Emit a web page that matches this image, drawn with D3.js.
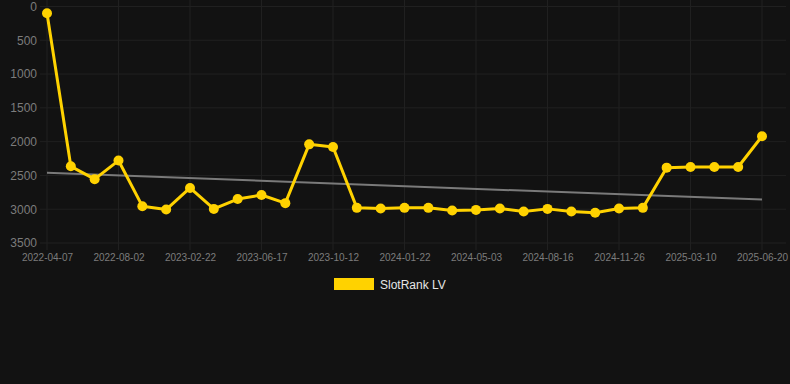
<!DOCTYPE html>
<html><head><meta charset="utf-8">
<script src="https://cdn.jsdelivr.net/npm/d3@7"></script>
<style>html,body{margin:0;padding:0;background:#121212;}svg{display:block;}</style>
</head><body>
<svg id="c" width="790" height="384"></svg>
<script>
const dates = ["2022-04-07","2022-05-15","2022-06-25","2022-08-02","2022-10-01","2022-12-10","2023-02-22","2023-03-30","2023-05-10","2023-06-17","2023-07-30","2023-09-01","2023-10-12","2023-11-20","2023-12-20","2024-01-22","2024-02-28","2024-04-01","2024-05-03","2024-06-10","2024-07-15","2024-08-16","2024-09-20","2024-10-25","2024-11-26","2024-12-30","2025-02-05","2025-03-10","2025-04-12","2025-05-15","2025-06-20"];
const ranks = [100,2365,2555,2280,2955,3005,2685,2995,2850,2790,2910,2040,2080,2980,2990,2980,2980,3020,3010,2990,3035,2995,3035,3052,2990,2980,2385,2375,2375,2375,1920];
const trend = [2460,2858];
const xTickLabels = ["2022-04-07","2022-08-02","2023-02-22","2023-06-17","2023-10-12","2024-01-22","2024-05-03","2024-08-16","2024-11-26","2025-03-10","2025-06-20"];
const yTicks = [0,500,1000,1500,2000,2500,3000,3500];
const seriesName = "SlotRank LV";

const svg = d3.select("#c");
const x = d3.scalePoint().domain(dates).range([47,762]);
const y = d3.scaleLinear().domain([0,3500]).range([6.5,243]);
const gridColor = "#202020";
const textColor = "#7c7c7c";

svg.append("g").selectAll("line").data(yTicks).join("line")
  .attr("x1",40).attr("x2",786).attr("y1",d=>y(d)).attr("y2",d=>y(d))
  .attr("stroke",gridColor).attr("stroke-width",1);
svg.append("g").selectAll("line").data(xTickLabels).join("line")
  .attr("x1",d=>x(d)).attr("x2",d=>x(d)).attr("y1",0).attr("y2",250)
  .attr("stroke",gridColor).attr("stroke-width",1);

const ya = svg.append("g").attr("transform","translate(45,0)")
  .call(d3.axisLeft(y).tickValues(yTicks).tickSize(0).tickPadding(8).tickFormat(d3.format("d")));
ya.select(".domain").remove();
ya.selectAll("text").attr("fill",textColor).attr("font-size",12).attr("font-family","Arial, Liberation Sans, sans-serif");

const xa = svg.append("g").attr("transform","translate(0,250)")
  .call(d3.axisBottom(x).tickValues(xTickLabels).tickSize(0).tickPadding(4));
xa.select(".domain").remove();
xa.selectAll("text").attr("fill",textColor).attr("font-size",10).attr("font-family","Arial, Liberation Sans, sans-serif");

svg.append("line")
  .attr("x1",x(dates[0])).attr("x2",x(dates[dates.length-1]))
  .attr("y1",y(trend[0])).attr("y2",y(trend[1]))
  .attr("stroke","#7a7a7a").attr("stroke-width",2);

const data = dates.map((d,i)=>({d,v:ranks[i]}));
svg.append("path").datum(data)
  .attr("d",d3.line().x(p=>x(p.d)).y(p=>y(p.v)))
  .attr("fill","none").attr("stroke","#FFD200").attr("stroke-width",3).attr("stroke-linejoin","round");
svg.append("g").selectAll("circle").data(data).join("circle")
  .attr("cx",p=>x(p.d)).attr("cy",p=>y(p.v)).attr("r",5).attr("fill","#FFD200");

svg.append("rect").attr("x",334).attr("y",278).attr("width",40).attr("height",12).attr("fill","#FFD200");
svg.append("text").attr("x",380).attr("y",289).text(seriesName)
  .attr("fill","#e6e6e6").attr("font-size",12).attr("font-family","Arial, Liberation Sans, sans-serif");
</script>
</body></html>
